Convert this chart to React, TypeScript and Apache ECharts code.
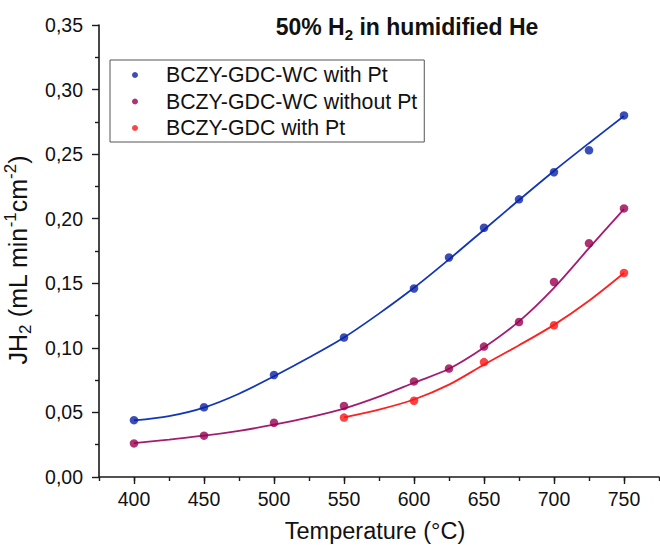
import React, { useEffect, useRef } from "react";
import * as echarts from "echarts";

const temps = [400, 450, 500, 550, 600, 625, 650, 675, 700, 725, 750];
const blueValues = [0.044, 0.054, 0.079, 0.108, 0.146, 0.170, 0.193, 0.215, 0.236, 0.253, 0.280];
const purpleValues = [0.026, 0.032, 0.042, 0.055, 0.074, 0.084, 0.101, 0.120, 0.151, 0.181, 0.208];
const redTemps = [550, 600, 650, 700, 750];
const redValues = [0.046, 0.059, 0.089, 0.1175, 0.158];

const fitTemps = [400, 425, 450, 475, 500, 525, 550, 575, 600, 625, 650, 675, 700, 725, 750];
const blueFit = [0.0438, 0.0472, 0.0538, 0.0645, 0.078, 0.0925, 0.108, 0.1265, 0.1465, 0.1685, 0.1915, 0.2145, 0.237, 0.2585, 0.2795];
const purpleFit = [0.0262, 0.029, 0.032, 0.0358, 0.0405, 0.0462, 0.053, 0.0622, 0.073, 0.0838, 0.1003, 0.1205, 0.1465, 0.1772, 0.2075];
const redFitTemps = [550, 575, 600, 625, 650, 675, 700, 725, 750];
const redFit = [0.0462, 0.0522, 0.06, 0.0715, 0.087, 0.102, 0.1178, 0.1365, 0.158];

const xMajorTicks = [400, 450, 500, 550, 600, 650, 700, 750];
const seriesNames = ["BCZY-GDC-WC with Pt", "BCZY-GDC-WC without Pt", "BCZY-GDC with Pt"];
const markerColors = ["#0A22A6", "#990050", "#FF1414"];
const lineColors = ["#1236B8", "#A21C72", "#FF2020"];

const FONT = 'Arial, "Liberation Sans", sans-serif';

const zip = (xs: number[], ys: number[]) => xs.map((x, i) => [x, ys[i]]);

export default function App() {
  const ref = useRef<HTMLDivElement>(null);
  useEffect(() => {
    if (!ref.current) return;
    const chart = echarts.init(ref.current, null, { renderer: "svg" });
    const scatterData = [zip(temps, blueValues), zip(temps, purpleValues), zip(redTemps, redValues)];
    const fitData = [zip(fitTemps, blueFit), zip(fitTemps, purpleFit), zip(redFitTemps, redFit)];
    const axisColor = "#1a1a1a";
    chart.setOption({
      animation: false,
      backgroundColor: "#ffffff",
      textStyle: { fontFamily: FONT },
      grid: { left: 99, right: 1, top: 25, bottom: 68, containLabel: false, outerBoundsMode: "none" },
      graphic: [
        {
          type: "text",
          x: 407,
          y: 27,
          style: {
            text: "{b|50% H}{s|2}{b| in humidified He}",
            align: "center",
            verticalAlign: "middle",
            fill: "#111",
            rich: {
              b: { fontFamily: FONT, fontWeight: "bold", fontSize: 23, lineHeight: 29, fill: "#111" },
              s: { fontFamily: FONT, fontWeight: "bold", fontSize: 15, lineHeight: 13, verticalAlign: "bottom", fill: "#111" },
            },
          },
        },
      ],
      legend: {
        data: seriesNames,
        orient: "vertical",
        left: 110,
        top: 60,
        icon: "circle",
        itemWidth: 52,
        itemHeight: 6,
        itemGap: 4.5,
        padding: [4, 7, 3, 22],
        borderColor: "#555",
        borderWidth: 1,
        textStyle: { fontFamily: FONT, fontSize: 21.3, lineHeight: 22, color: "#111" },
      },
      xAxis: [
        {
          type: "value",
          min: 375,
          max: 775,
          interval: 25,
          axisLine: { show: true, onZero: false, lineStyle: { color: axisColor, width: 1.6 } },
          axisTick: { show: true, length: 4, inside: false, lineStyle: { color: axisColor, width: 1.4 } },
          axisLabel: {
            customValues: xMajorTicks,
            margin: 12,
            fontFamily: FONT,
            fontSize: 19.5,
            color: "#111",
          },
          splitLine: { show: false },
          name: "Temperature (°C)",
          nameLocation: "middle",
          nameGap: 42,
          nameTextStyle: { fontFamily: FONT, fontSize: 23.5, lineHeight: 24, color: "#111", padding: [0, 8, 0, 0] },
        },
        {
          type: "value",
          min: 375,
          max: 775,
          position: "bottom",
          axisLine: { show: false },
          axisTick: { show: true, customValues: xMajorTicks, length: 7, lineStyle: { color: axisColor, width: 1.4 } },
          axisLabel: { show: false },
          splitLine: { show: false },
        },
      ],
      yAxis: {
        type: "value",
        min: 0,
        max: 0.35,
        interval: 0.05,
        axisLine: { show: true, onZero: false, lineStyle: { color: axisColor, width: 1.6 } },
        axisTick: { show: true, length: 7, lineStyle: { color: axisColor, width: 1.4 } },
        minorTick: { show: true, splitNumber: 2, length: 4, lineStyle: { color: axisColor, width: 1.4 } },
        axisLabel: {
          margin: 16,
          fontFamily: FONT,
          fontSize: 19.5,
          color: "#111",
          formatter: (v: number) => v.toFixed(2).replace(".", ","),
        },
        splitLine: { show: false },
        name: "{m|JH}{s|2}{m| (mL min}{p|-1}{m|cm}{p|-2}{m|)}",
        nameLocation: "middle",
        nameRotate: 90,
        nameGap: 60,
        nameTextStyle: {
          color: "#111",
          padding: [0, 18, 0, 0],
          rich: {
            m: { fontFamily: FONT, fontSize: 25, lineHeight: 32, color: "#111" },
            s: { fontFamily: FONT, fontSize: 17, lineHeight: 15, verticalAlign: "bottom", color: "#111" },
            p: { fontFamily: FONT, fontSize: 17, lineHeight: 15, verticalAlign: "top", color: "#111" },
          },
        },
      },
      series: [
        ...fitData.map((d, i) => ({
          type: "line",
          name: seriesNames[i] + " fit",
          data: d,
          smooth: 0.3,
          showSymbol: false,
          symbol: "none",
          lineStyle: { color: lineColors[i], width: 1.8 },
          z: 2,
          silent: true,
        })),
        ...scatterData.map((d, i) => ({
          type: "scatter",
          name: seriesNames[i],
          data: d,
          symbol: "circle",
          symbolSize: 8.5,
          itemStyle: { color: markerColors[i] },
          z: 3,
        })),
      ],
    });
    return () => chart.dispose();
  }, []);
  return <div ref={ref} style={{ width: 660, height: 545, position: "absolute", left: 0, top: 0 }} />;
}
